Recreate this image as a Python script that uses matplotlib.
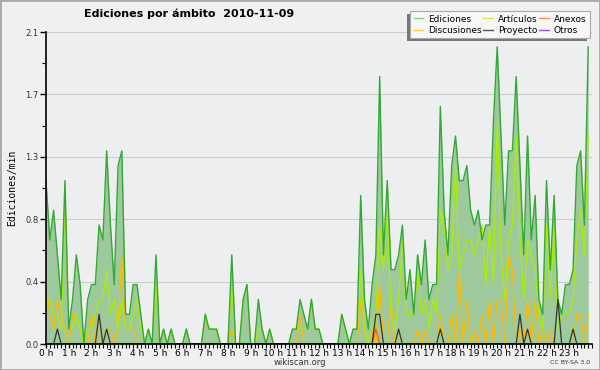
import numpy as np
import matplotlib
matplotlib.use("Agg")
import matplotlib.pyplot as plt
from matplotlib.patches import Rectangle
from matplotlib.ticker import FixedLocator, MultipleLocator

# 10 minute slots, 144 per day, edits per minute
ediciones = [1.1, 0.7, 0.9, 0.6, 0.3, 1.1, 0.1, 0.3, 0.6, 0.4,
             0.0, 0.3, 0.4, 0.4, 0.8, 0.7, 1.3, 0.8, 0.4, 1.2,
             1.3, 0.2, 0.2, 0.4, 0.4, 0.2, 0.0, 0.1, 0.0, 0.6,
             0.0, 0.1, 0.0, 0.1, 0.0, 0.0, 0.0, 0.1, 0.0, 0.0,
             0.0, 0.0, 0.2, 0.1, 0.1, 0.1, 0.0, 0.0, 0.0, 0.6,
             0.0, 0.0, 0.3, 0.4, 0.0, 0.0, 0.3, 0.1, 0.0, 0.1,
             0.0, 0.0, 0.0, 0.0, 0.0, 0.1, 0.1, 0.3, 0.2, 0.1,
             0.3, 0.1, 0.1, 0.0, 0.0, 0.0, 0.0, 0.0, 0.2, 0.1,
             0.0, 0.1, 0.1, 1.0, 0.3, 0.1, 0.4, 0.6, 1.8, 0.6,
             1.1, 0.5, 0.5, 0.6, 0.8, 0.3, 0.5, 0.2, 0.6, 0.4,
             0.7, 0.3, 0.4, 0.4, 1.6, 0.9, 0.6, 1.2, 1.4, 1.1,
             1.1, 1.2, 0.9, 0.8, 0.9, 0.7, 0.8, 0.8, 1.5, 2.0,
             1.4, 0.8, 1.3, 1.3, 1.8, 1.2, 0.6, 1.4, 0.7, 1.0,
             0.3, 0.2, 1.1, 0.5, 1.0, 0.3, 0.2, 0.4, 0.4, 0.5,
             1.2, 1.3, 0.8, 2.0]

articulos = [0.3, 0.3, 0.2, 0.2, 0.1, 1.0, 0.1, 0.1, 0.2, 0.1,
             0.0, 0.1, 0.1, 0.2, 0.3, 0.3, 0.5, 0.2, 0.3, 0.1,
             0.3, 0.1, 0.1, 0.2, 0.3, 0.1, 0.0, 0.1, 0.0, 0.4,
             0.0, 0.0, 0.0, 0.1, 0.0, 0.0, 0.0, 0.1, 0.0, 0.0,
             0.0, 0.0, 0.2, 0.1, 0.1, 0.1, 0.0, 0.0, 0.0, 0.4,
             0.0, 0.0, 0.3, 0.4, 0.0, 0.0, 0.1, 0.1, 0.0, 0.1,
             0.0, 0.0, 0.0, 0.0, 0.0, 0.1, 0.1, 0.1, 0.1, 0.1,
             0.3, 0.1, 0.1, 0.0, 0.0, 0.0, 0.0, 0.0, 0.2, 0.1,
             0.0, 0.1, 0.1, 0.5, 0.1, 0.0, 0.1, 0.2, 0.8, 0.5,
             0.9, 0.2, 0.1, 0.3, 0.7, 0.2, 0.2, 0.2, 0.5, 0.2,
             0.3, 0.1, 0.3, 0.2, 0.9, 0.8, 0.5, 0.6, 1.2, 0.5,
             0.6, 0.7, 0.7, 0.6, 0.7, 0.8, 0.4, 0.8, 0.4, 1.5,
             0.6, 0.3, 0.7, 0.8, 1.4, 0.7, 0.3, 0.7, 0.6, 0.5,
             0.2, 0.1, 0.8, 0.3, 0.8, 0.1, 0.2, 0.2, 0.2, 0.3,
             0.7, 0.9, 0.6, 1.4]

discusiones = [0.4, 0.2, 0.1, 0.3, 0.2, 0.1, 0.0, 0.2, 0.2, 0.1,
               0.0, 0.0, 0.2, 0.0, 0.2, 0.0, 0.1, 0.1, 0.0, 0.1,
               0.6, 0.1, 0.1, 0.1, 0.0, 0.0, 0.0, 0.0, 0.0, 0.0,
               0.0, 0.1, 0.0, 0.0, 0.0, 0.0, 0.0, 0.0, 0.0, 0.0,
               0.0, 0.0, 0.0, 0.0, 0.0, 0.0, 0.0, 0.0, 0.0, 0.1,
               0.0, 0.0, 0.0, 0.0, 0.0, 0.0, 0.0, 0.0, 0.0, 0.0,
               0.0, 0.0, 0.0, 0.0, 0.0, 0.0, 0.0, 0.2, 0.0, 0.0,
               0.0, 0.0, 0.0, 0.0, 0.0, 0.0, 0.0, 0.0, 0.0, 0.0,
               0.0, 0.0, 0.0, 0.3, 0.1, 0.0, 0.1, 0.0, 0.4, 0.0,
               0.0, 0.3, 0.0, 0.1, 0.0, 0.0, 0.0, 0.0, 0.1, 0.0,
               0.1, 0.0, 0.0, 0.0, 0.2, 0.0, 0.0, 0.2, 0.0, 0.5,
               0.0, 0.3, 0.0, 0.1, 0.0, 0.2, 0.0, 0.3, 0.0, 0.3,
               0.3, 0.0, 0.6, 0.5, 0.0, 0.1, 0.0, 0.3, 0.0, 0.3,
               0.0, 0.1, 0.0, 0.1, 0.0, 0.0, 0.0, 0.0, 0.0, 0.0,
               0.2, 0.2, 0.0, 0.2]

anexos = [0.0] * 144
anexos[87] = 0.1

proyecto = [0.0] * 144
for k, v in [(3, 0.1), (14, 0.2), (16, 0.1), (87, 0.2), (88, 0.2), (93, 0.1),
             (104, 0.1), (125, 0.2), (127, 0.1), (135, 0.3), (139, 0.1)]:
    proyecto[k] = v

otros = [0.0] * 144

hour_labels = ["%d h" % h for h in range(24)]
ytick_vals = [0.0, 0.42, 0.84, 1.26, 1.68, 2.1]

x = np.arange(144)

fig = plt.figure(figsize=(6, 3.7), dpi=100, facecolor="#f0f0f0")
ax = fig.add_axes([46 / 600, 26 / 370, 546 / 600, 312 / 370])
ax.set_facecolor("#edeef0")

ax.fill_between(x, ediciones, color="#9dc99d", zorder=2, lw=0)
ax.plot(x, ediciones, color="#33a833", lw=1.0, zorder=5)
ax.plot(x, articulos, color="#aaee00", lw=0.9, zorder=4)
ax.plot(x, discusiones, color="#ffbb00", lw=0.9, zorder=3.5)
ax.plot(x, anexos, color="#ff5522", lw=0.9, zorder=3.6)
ax.plot(x, proyecto, color="#333333", lw=0.9, zorder=6)

ax.set_xlim(0, 144)
ax.set_ylim(0, 2.1)
ax.yaxis.set_major_locator(FixedLocator(ytick_vals))
ax.set_yticklabels(["%.1f" % v for v in ytick_vals])
ax.yaxis.set_minor_locator(MultipleLocator(0.21))
ax.set_xticks(np.arange(0, 144, 6))
ax.set_xticklabels(hour_labels)
ax.xaxis.set_minor_locator(MultipleLocator(1))
ax.grid(axis="y", color="#cccccc", lw=0.8, zorder=1)
ax.set_axisbelow(True)

for s in ["top", "right"]:
    ax.spines[s].set_visible(False)
for s in ["left", "bottom"]:
    ax.spines[s].set_linewidth(1.2)
    ax.spines[s].set_zorder(7)

ax.tick_params(axis="y", which="major", labelsize=6, length=4, width=1, pad=1.5, labelcolor="#333333")
ax.tick_params(axis="y", which="minor", length=3, width=0.8)
ax.tick_params(axis="x", which="major", labelsize=6.5, length=3, width=1, pad=0.5)
ax.tick_params(axis="x", which="minor", length=3, width=0.8)

ax.set_ylabel("Ediciones/min", fontsize=7, family="DejaVu Sans Mono", labelpad=6)

fig.text(0.14, 0.962, "Ediciones por ámbito  2010-11-09", fontsize=8, fontweight="bold", va="center")
fig.text(0.5, 0.02, "wikiscan.org", fontsize=6, ha="center", va="center", color="#333333")
fig.text(0.983, 0.02, "CC BY-SA 3.0", fontsize=4.5, ha="right", va="center", color="#333333")

# legend
handles = []
for name, c in [("Ediciones", "#88cc88"), ("Discusiones", "#ffcc44"),
                ("Artículos", "#ccee44"), ("Proyecto", "#555555"),
                ("Anexos", "#ff8855"), ("Otros", "#9955ee")]:
    h, = ax.plot([], [], color=c, lw=1, label=name)
    handles.append(h)
leg = fig.legend(handles=handles, ncol=3, loc="upper right",
                 bbox_to_anchor=(590 / 600, 1 - 11 / 370), fontsize=6.5,
                 frameon=True, fancybox=False, edgecolor="#aaaaaa",
                 facecolor="#f7f7f7", framealpha=1, borderpad=0.4,
                 handlelength=1.1, handletextpad=0.5, columnspacing=0.2,
                 labelspacing=0.25, borderaxespad=0)
leg.get_frame().set_linewidth(0.8)
leg.set_zorder(10)

fig.canvas.draw()
bb = leg.get_window_extent()
shadow = Rectangle((bb.x0 - 3, bb.y0 - 3), bb.width, bb.height, transform=None,
                   facecolor="#777777", edgecolor="none", zorder=9)
fig.patches.append(shadow)

# outer border
fig.patches.append(Rectangle((0, 0), 1, 1, transform=fig.transFigure, fill=False,
                             edgecolor="#aaaaaa", lw=2, zorder=20))

fig.savefig("out.png", dpi=100, facecolor=fig.get_facecolor())
